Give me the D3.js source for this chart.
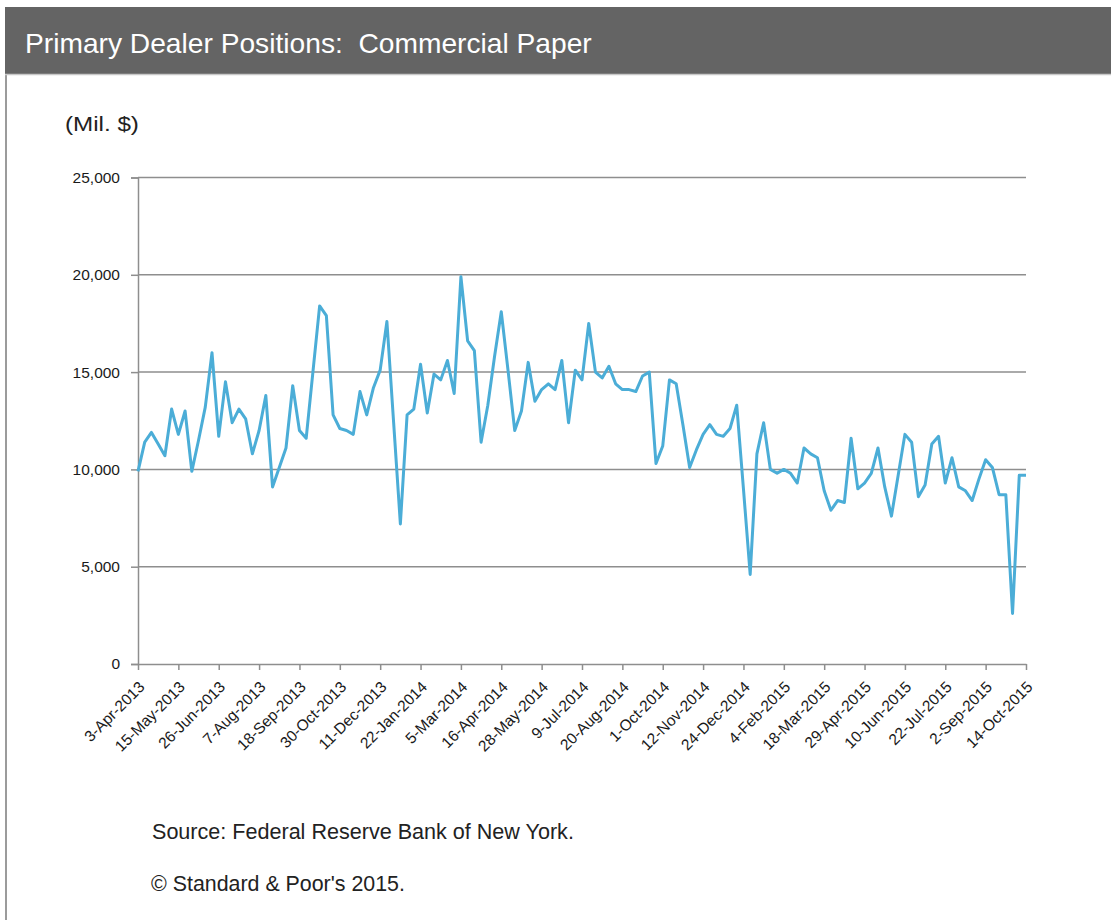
<!DOCTYPE html>
<html>
<head>
<meta charset="utf-8">
<script src="https://cdn.jsdelivr.net/npm/d3@7/dist/d3.min.js"></script>
<style>
  html, body { margin: 0; padding: 0; background: #ffffff; }
  svg { display: block; }
</style>
</head>
<body>
<svg id="chart" width="1111" height="920"></svg>
<script>
// ---- Data ----
const startDate = "2013-04-03";           // first weekly observation (Wednesday)
const values = [
  9900, 11400, 11900, 11300, 10700, 13100, 11800, 13000, 9900, 11500,
  13200, 16000, 11700, 14500, 12400, 13100, 12600, 10800, 12000, 13800,
  9100, 10100, 11100, 14300, 12000, 11600, 15000, 18400, 17900, 12800,
  12100, 12000, 11800, 14000, 12800, 14200, 15100, 17600, 12400, 7200,
  12800, 13100, 15400, 12900, 14900, 14600, 15600, 13900, 19900, 16600,
  16100, 11400, 13300, 15800, 18100, 15100, 12000, 13000, 15500, 13500,
  14100, 14400, 14100, 15600, 12400, 15100, 14600, 17500, 15000, 14700,
  15300, 14400, 14100, 14100, 14000, 14800, 15000, 10300, 11200, 14600,
  14400, 12300, 10100, 11000, 11800, 12300, 11800, 11700, 12100, 13300,
  9000, 4600, 10800, 12400, 10000, 9800, 10000, 9800, 9300, 11100,
  10800, 10600, 8900, 7900, 8400, 8300, 11600, 9000, 9300, 9800,
  11100, 9100, 7600, 9700, 11800, 11400, 8600, 9200, 11300, 11700,
  9300, 10600, 9100, 8900, 8400, 9500, 10500, 10100, 8700, 8700,
  2600, 9700, 9700
];
const yTicks = [0, 5000, 10000, 15000, 20000, 25000];
const tickEveryWeeks = 6;
const titleText = "Primary Dealer Positions:  Commercial Paper";
const unitText = "(Mil. $)";
const sourceText = "Source: Federal Reserve Bank of New York.";
const copyText = "\u00A9 Standard & Poor's 2015.";

// ---- Build dated series ----
const parse = d3.timeParse("%Y-%m-%d");
const d0 = parse(startDate);
const data = values.map((v, i) => ({ date: d3.timeDay.offset(d0, 7 * i), value: v }));
const tickDates = data.filter((d, i) => i % tickEveryWeeks === 0).map(d => d.date);

const svg = d3.select("#chart");
const W = 1111, H = 920;
const SANS = "'Liberation Sans', Arial, sans-serif";

// Frame
svg.append("rect").attr("x", 0).attr("y", 0).attr("width", W).attr("height", H).attr("fill", "#ffffff");
svg.append("line").attr("x1", 6).attr("x2", 6).attr("y1", 74).attr("y2", H)
  .attr("stroke", "#7a7a7a").attr("stroke-width", 1.5);

// Title bar
svg.append("rect").attr("x", 5).attr("y", 7).attr("width", W - 5).attr("height", 67).attr("fill", "#646464");
svg.append("line").attr("x1", 5).attr("x2", W).attr("y1", 74.5).attr("y2", 74.5)
  .attr("stroke", "#c8c8c8").attr("stroke-width", 1.5);

// narrow text: fixed font size, horizontally condensed to fit target width
function narrowText(parent, txt, x, y, fs, targetWidth, fill, weight) {
  const t = parent.append("text")
    .attr("x", 0).attr("y", 0)
    .attr("font-family", SANS)
    .attr("font-size", fs).attr("fill", fill)
    .attr("font-weight", weight || "normal")
    .attr("xml:space", "preserve")
    .style("white-space", "pre")
    .text(txt);
  const w = t.node().getComputedTextLength();
  const k = w > 0 ? targetWidth / w : 1;
  t.attr("transform", `translate(${x},${y}) scale(${k.toFixed(4)},1)`);
  return t;
}
function fitText(sel, targetWidth) {
  const w = sel.node().getComputedTextLength();
  const fs = parseFloat(sel.attr("font-size"));
  if (w > 0) sel.attr("font-size", (fs * targetWidth / w).toFixed(2));
}

narrowText(svg, titleText, 25, 53, 28.5, 567, "#ffffff", "normal");

// Scales
const x = d3.scaleTime().domain([data[0].date, data[data.length - 1].date]).range([138, 1026]);
const y = d3.scaleLinear().domain([0, 25000]).range([664, 177.5]);

// Unit label
narrowText(svg, unitText, 65, 131, 20, 74, "#222222", "normal");

// Gridlines
svg.append("g").selectAll("line").data(yTicks.filter(t => t > 0)).join("line")
  .attr("x1", 138).attr("x2", 1026)
  .attr("y1", d => y(d)).attr("y2", d => y(d))
  .attr("stroke", "#8e8e8e").attr("stroke-width", 1.5);

// Y axis
const yAxis = svg.append("g").attr("transform", "translate(138,0)")
  .call(d3.axisLeft(y).tickValues(yTicks).tickSize(7).tickPadding(11).tickFormat(d3.format(",")));
yAxis.select(".domain").attr("stroke", "#8e8e8e").attr("stroke-width", 1.5);
yAxis.selectAll(".tick line").attr("stroke", "#8e8e8e").attr("stroke-width", 1.5);
yAxis.selectAll(".tick text")
  .attr("font-family", SANS)
  .attr("font-size", 15.5).attr("fill", "#1a1a1a");

// X axis
const xAxis = svg.append("g").attr("transform", "translate(0,664)")
  .call(d3.axisBottom(x).tickValues(tickDates).tickSize(6).tickSizeOuter(0)
    .tickFormat(d3.timeFormat("%-d-%b-%Y")));
xAxis.select(".domain").attr("stroke", "#8e8e8e").attr("stroke-width", 1.5);
xAxis.selectAll(".tick line").attr("stroke", "#8e8e8e").attr("stroke-width", 1.5);
xAxis.selectAll(".tick text")
  .attr("font-family", SANS)
  .attr("font-size", 15.5).attr("fill", "#1a1a1a")
  .attr("text-anchor", "end")
  .attr("dy", null)
  .attr("transform", "translate(7,24) rotate(-45)")
  .attr("x", 0).attr("y", 0);

// Line
svg.append("path").datum(data)
  .attr("fill", "none")
  .attr("stroke", "#4badd7")
  .attr("stroke-width", 3)
  .attr("stroke-linejoin", "round")
  .attr("d", d3.line().x(d => x(d.date)).y(d => y(d.value)));

// Footer
const src = svg.append("text").attr("x", 152).attr("y", 839)
  .attr("font-family", SANS)
  .attr("font-size", 17).attr("fill", "#222222").text(sourceText);
fitText(src, 422);
const cp = svg.append("text").attr("x", 151).attr("y", 891)
  .attr("font-family", SANS)
  .attr("font-size", 17).attr("fill", "#222222").text(copyText);
fitText(cp, 254);
</script>
</body>
</html>
